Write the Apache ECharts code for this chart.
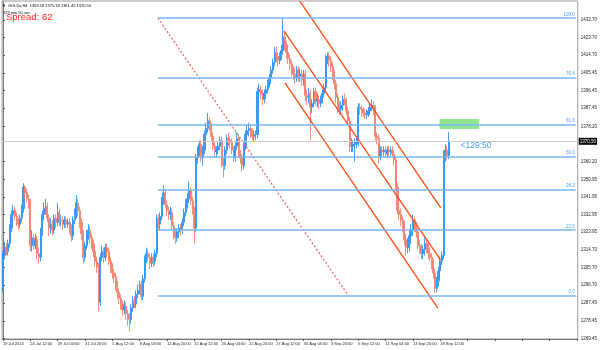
<!DOCTYPE html>
<html>
<head>
<meta charset="utf-8">
<script src="https://cdn.jsdelivr.net/npm/echarts@6/dist/echarts.min.js"></script>
<style>
html,body{margin:0;padding:0;background:#fff;}
#main{width:600px;height:350px;}
</style>
</head>
<body>
<div id="main"></div>
<script>
// GOLDs H4, 19 Jul 2013 20:00 .. 19 Sep 2013 (262 bars)
var opens = [
1294,1312,1316,1314,1318,1326,1333,1335,1332,1329,
1328,1331,1336,1347,1344,1341,1339,1317,1321,1317,
1320,1313,1311,1324,1333,1336,1337,1331,1326,1328,
1325,1331,1329,1334,1330,1330,1328,1330,1328,1329,
1326,1322,1330,1333,1339,1335,1329,1323,1311,1317,
1322,1325,1321,1318,1314,1309,1306,1288,1311,1314,
1311,1316,1314,1309,1306,1303,1301,1297,1293,1290,
1287,1284,1286,1282,1280,1279,1285,1289,1287,1292,
1294,1297,1291,1300,1310,1313,1311,1308,1311,1309,
1313,1331,1328,1332,1340,1344,1338,1335,1333,1334,
1327,1323,1321,1324,1326,1325,1329,1334,1339,1341,
1345,1340,1335,1326,1362,1366,1369,1362,1366,1374,
1377,1381,1378,1373,1368,1365,1366,1368,1371,1360,
1358,1366,1372,1371,1370,1366,1362,1368,1372,1364,
1362,1358,1368,1374,1376,1377,1375,1373,1374,1374,
1396,1397,1395,1392,1395,1397,1400,1403,1407,1411,
1416,1414,1412,1414,1417,1424,1420,1416,1413,1410,
1407,1405,1403,1407,1404,1405,1402,1405,1394,1393,
1395,1388,1390,1396,1391,1392,1390,1392,1395,1398,
1413,1414,1412,1409,1405,1400,1393,1388,1387,1389,
1392,1391,1386,1381,1368,1368,1369,1369,1370,1388,
1387,1386,1385,1384,1385,1386,1388,1389,1387,1373,
1372,1363,1366,1365,1366,1364,1366,1365,1366,1364,
1361,1347,1335,1333,1330,1327,1320,1316,1318,1322,
1325,1330,1327,1324,1317,1316,1313,1315,1318,1316,
1313,1311,1308,1303,1295,1299,1304,1309,1312,1363,
1366,1363.18
];
var closes = [
1312,1316,1314,1318,1326,1333,1335,1332,1329,1328,
1331,1336,1347,1344,1341,1339,1317,1321,1317,1320,
1313,1311,1324,1333,1336,1337,1331,1326,1328,1325,
1331,1329,1334,1330,1330,1328,1330,1328,1329,1326,
1322,1330,1333,1339,1335,1329,1323,1311,1317,1322,
1325,1321,1318,1314,1309,1306,1288,1311,1314,1311,
1316,1314,1309,1306,1303,1301,1297,1293,1290,1287,
1284,1286,1282,1280,1279,1285,1289,1287,1292,1294,
1297,1291,1300,1310,1313,1311,1308,1311,1309,1313,
1331,1328,1332,1340,1344,1338,1335,1333,1334,1327,
1323,1321,1324,1326,1325,1329,1334,1339,1341,1345,
1340,1335,1326,1362,1366,1369,1362,1366,1374,1377,
1381,1378,1373,1368,1365,1366,1368,1371,1360,1358,
1366,1372,1371,1370,1366,1362,1368,1372,1364,1362,
1358,1368,1374,1376,1377,1375,1373,1374,1374,1396,
1397,1395,1392,1395,1397,1400,1403,1407,1411,1416,
1414,1412,1414,1417,1424,1420,1416,1413,1410,1407,
1405,1403,1407,1404,1405,1402,1405,1394,1393,1395,
1388,1390,1396,1391,1392,1390,1392,1395,1398,1413,
1414,1412,1409,1405,1400,1393,1388,1387,1389,1392,
1391,1386,1381,1368,1368,1369,1369,1370,1388,1387,
1386,1385,1384,1385,1386,1388,1389,1387,1373,1372,
1363,1366,1365,1366,1364,1366,1365,1366,1364,1361,
1347,1335,1333,1330,1327,1320,1316,1318,1322,1325,
1330,1327,1324,1317,1316,1313,1315,1318,1316,1313,
1311,1308,1303,1295,1299,1304,1309,1312,1363,1366,
1363.18,1370.50
];
var highs = [
1314,1319,1318,1320,1328,1335,1338,1337,1334,1331,
1333,1338,1349,1348,1346,1343,1341,1325,1323,1323,
1322,1316,1326,1335,1339,1341,1339,1333,1331,1330,
1333,1333,1339,1336,1333,1332,1332,1332,1331,1331,
1328,1332,1336,1343,1341,1337,1331,1325,1319,1325,
1328,1327,1323,1320,1316,1311,1308,1313,1317,1316,
1318,1318,1316,1311,1308,1305,1303,1299,1295,1292,
1289,1289,1288,1284,1282,1287,1291,1291,1294,1297,
1299,1299,1302,1312,1316,1315,1313,1313,1313,1315,
1333,1333,1334,1342,1348,1346,1340,1337,1337,1336,
1329,1326,1326,1328,1328,1331,1336,1341,1344,1350,
1347,1342,1337,1364,1368,1371,1371,1368,1376,1380,
1385,1383,1380,1375,1370,1368,1370,1373,1373,1362,
1368,1374,1375,1373,1372,1368,1370,1375,1374,1366,
1364,1370,1376,1379,1380,1379,1377,1376,1376,1398,
1400,1399,1397,1397,1399,1402,1405,1409,1413,1419,
1419,1416,1416,1420,1433.7,1427,1422,1418,1415,1412,
1409,1408,1409,1409,1408,1407,1407,1407,1397,1398,
1397,1392,1398,1398,1395,1394,1394,1397,1400,1415,
1416,1416,1414,1411,1407,1402,1395,1391,1391,1394,
1395,1393,1388,1383,1372,1371,1372,1372,1390,1390,
1389,1388,1387,1387,1388,1390,1392,1391,1389,1375,
1374,1368,1368,1368,1368,1368,1368,1368,1368,1366,
1363,1349,1338,1336,1332,1330,1323,1321,1325,1328,
1333,1332,1329,1326,1320,1318,1317,1321,1320,1318,
1316,1313,1310,1305,1301,1306,1311,1314,1366,1369,
1368,1375.18
];
var lows = [
1293,1310,1312,1312,1316,1324,1331,1330,1327,1325,
1326,1329,1334,1341,1339,1336,1314,1314,1315,1315,
1310,1308,1309,1322,1330,1333,1329,1322,1323,1322,
1323,1326,1327,1327,1327,1325,1326,1326,1326,1323,
1319,1320,1328,1331,1332,1326,1320,1308,1309,1315,
1320,1318,1315,1311,1306,1303,1283,1286,1309,1308,
1309,1311,1307,1303,1300,1298,1294,1290,1287,1284,
1281,1282,1279,1276,1273,1277,1283,1285,1285,1290,
1292,1289,1289,1298,1308,1309,1305,1306,1306,1307,
1311,1326,1325,1330,1338,1336,1332,1330,1330,1325,
1320,1318,1319,1321,1322,1323,1327,1332,1336,1339,
1338,1333,1318,1324,1359,1363,1360,1358,1364,1371,
1375,1376,1371,1366,1362,1362,1364,1366,1357,1352,
1356,1364,1368,1367,1364,1360,1360,1366,1362,1359,
1355,1356,1366,1372,1373,1372,1371,1370,1371,1372,
1393,1392,1389,1390,1392,1395,1398,1401,1405,1409,
1411,1409,1410,1412,1415,1417,1413,1410,1407,1404,
1402,1400,1401,1401,1401,1399,1399,1391,1389,1390,
1371,1385,1388,1389,1388,1387,1388,1390,1393,1396,
1410,1409,1406,1402,1397,1390,1385,1384,1385,1386,
1389,1384,1379,1365,1365,1365,1360,1367,1368,1384,
1383,1383,1382,1382,1383,1384,1386,1384,1371,1369,
1359,1361,1363,1363,1362,1362,1363,1363,1362,1358,
1345,1333,1330,1327,1324,1317,1312,1313,1314,1319,
1322,1324,1321,1315,1313,1310,1310,1312,1313,1310,
1309,1305,1300,1292.7,1293,1296,1302,1307,1310,1360,
1361,1361.45
];

var slotCount = 337;      // bar slots across the window (chart is shifted right)
var labelEvery = 16;
var dateLabels = ['19 Jul 2013','24 Jul 12:00','29 Jul 04:00','31 Jul 20:00','5 Aug 12:00',
    '8 Aug 04:00','12 Aug 20:00','15 Aug 12:00','20 Aug 04:00','22 Aug 20:00','27 Aug 12:00',
    '30 Aug 04:00','3 Sep 20:00','6 Sep 12:00','11 Sep 04:00','13 Sep 20:00','18 Sep 12:00'];
var priceTicks = [1432.70,1423.70,1414.70,1405.45,1396.45,1387.45,1378.20,1360.20,1350.95,
    1341.95,1332.95,1323.95,1314.70,1305.70,1296.70,1287.45,1278.45,1269.45];
var lastPrice = 1370.50;

// fibonacci retracement
var fibNames = ['100.0','76.4','61.8','50.0','38.2','23.6','0.0'];
var fibPrices = [1433.7,1403.1,1379.2,1362.6,1345.9,1325.0,1291.3];
var fibStart = 90.7, fibEnd = 335.3;
var fibTrend = [[90.7,1433.7],[202.3,1291.3]];
// regression channel (bar index, price)
var channelLines = [
    [[173.8,1442.4],[256.3,1336.3]],
    [[164.5,1427.1],[256.3,1309.6]],
    [[165.1,1400.4],[254.6,1285.0]]
];
var targetZone = [[255.6,1381.9],[278.8,1376.8]];
var timerText = '<129:50';
var timerAt = [267.9,1368.1];

var cats = [];
for (var i = 0; i < slotCount; i++) cats.push(String(i));
var candles = [];
for (var i = 0; i < closes.length; i++) candles.push([opens[i], closes[i], lows[i], highs[i]]);

var font = 'Liberation Sans';
var myChart = echarts.init(document.getElementById('main'));

var fibLines = [];
for (var i = 0; i < fibPrices.length; i++) {
    fibLines.push([
        {coord: [fibStart, fibPrices[i]], name: fibNames[i]},
        {coord: [fibEnd, fibPrices[i]]}
    ]);
}

var series = [{
    type: 'candlestick',
    data: candles,
    barWidth: '95%',
    itemStyle: {
        color: '#2a93f5', color0: '#f5806e',
        borderColor: '#2a93f5', borderColor0: '#f5806e',
        borderWidth: 1,
        opacity: 0.9
    },
    markLine: {
        silent: true, symbol: 'none', animation: false,
        lineStyle: {color: '#c8c8c8', type: 'solid', width: 1},
        label: {
            position: 'end', distance: 1,
            formatter: lastPrice.toFixed(2),
            color: '#fff', backgroundColor: '#000',
            fontSize: 4.5, fontFamily: font, padding: [1, 1, 1, 1]
        },
        data: [{yAxis: lastPrice}]
    }
}, {
    // dotted trend line between the fib anchors, carries fib levels too
    type: 'line',
    xAxisIndex: 1,
    data: fibTrend,
    symbol: 'none',
    lineStyle: {color: '#ee6464', width: 1.3, type: [2, 2]},
    z: 3,
    markLine: {
        silent: true, symbol: 'none', animation: false,
        lineStyle: {color: '#78b6f4', width: 1.5, type: 'solid'},
        label: {
            position: 'insideEndTop', distance: 1,
            formatter: '{b}',
            color: '#4a9ff0', fontSize: 4.5, fontFamily: font
        },
        data: fibLines
    },
    markArea: {
        silent: true,
        itemStyle: {color: '#8fe88f'},
        data: [[{coord: targetZone[0]}, {coord: targetZone[1]}]]
    },
    markPoint: {
        silent: true, symbolSize: 0,
        label: {
            show: true, position: 'right', distance: 0,
            formatter: timerText, color: '#4aa3f0',
            fontSize: 8.5, fontFamily: font
        },
        data: [{coord: timerAt}]
    }
}];
channelLines.forEach(function (seg) {
    series.push({
        type: 'line',
        xAxisIndex: 1,
        data: seg,
        symbol: 'none',
        z: 4,
        lineStyle: {color: '#ff4a0f', width: 1.3}
    });
});

var option = {
    backgroundColor: '#fff',
    animation: false,
    title: [
        {text: '▼', left: 2, top: 4, padding: 0, textStyle: {fontSize: 4, color: '#000', fontWeight: 'normal', fontFamily: font}},
        {text: 'GOLDs,H4  1363.18 1375.18 1361.45 1370.50', left: 8, top: 4, padding: 0,
            textStyle: {fontSize: 4, color: '#000', fontWeight: 'normal', fontFamily: font}},
        {text: '129 min 50 sec', left: 3, top: 11, padding: 0,
            textStyle: {fontSize: 4, color: '#000', fontWeight: 'normal', fontFamily: font}},
        {text: 'Spread: 62', left: 6, top: 12, padding: 0,
            textStyle: {fontSize: 9.5, color: '#ff2020', fontWeight: 'normal', fontFamily: font}}
    ],
    grid: {left: 1, right: 18, top: 1, bottom: 11, show: true, borderColor: '#9a9a9a', borderWidth: 1},
    xAxis: [{
        type: 'category',
        data: cats,
        boundaryGap: true,
        axisLine: {lineStyle: {color: '#777'}},
        axisTick: {show: true, interval: labelEvery - 1, alignWithLabel: true, length: 2, lineStyle: {color: '#555'}},
        axisLabel: {
            interval: labelEvery - 1, margin: 3, align: 'left',
            fontSize: 4, color: '#222', fontFamily: font,
            formatter: function (v, idx) {
                var k = idx / labelEvery;
                return dateLabels[k] || '';
            }
        },
        splitLine: {show: false}
    }, {
        type: 'value',
        min: -0.5, max: slotCount - 0.5,
        show: false
    }],
    yAxis: {
        type: 'value',
        position: 'right',
        min: 1269.11, max: 1442.44,
        axisLine: {show: true, lineStyle: {color: '#777'}},
        axisTick: {show: true, length: 2, customValues: priceTicks, lineStyle: {color: '#555'}},
        axisLabel: {
            customValues: priceTicks, margin: 3,
            fontSize: 4.5, color: '#222', fontFamily: font,
            formatter: function (v) { return v.toFixed(2); }
        },
        splitLine: {show: false}
    },
    series: series
};
myChart.setOption(option);
</script>
</body>
</html>
